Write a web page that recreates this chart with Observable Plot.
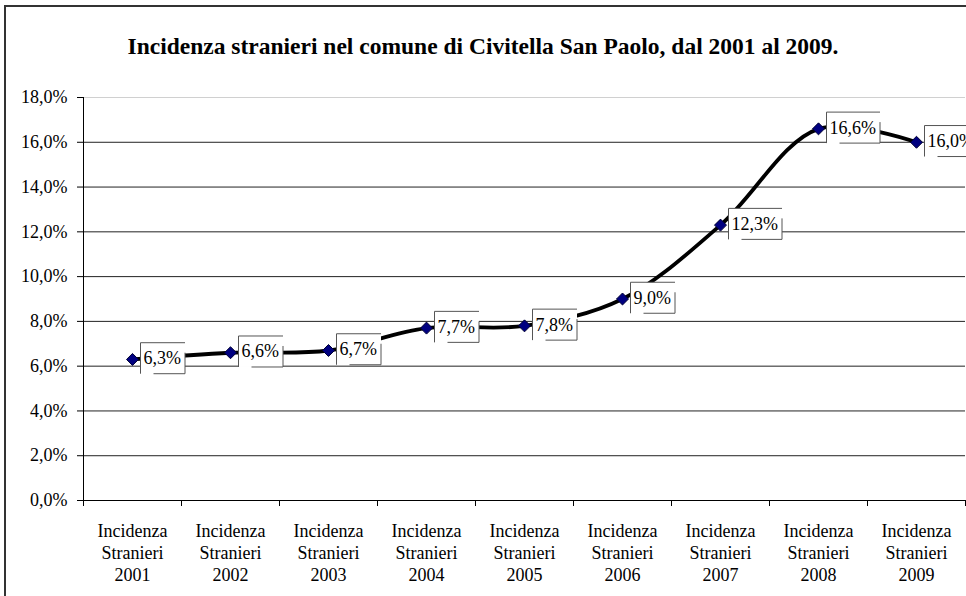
<!DOCTYPE html>
<html>
<head>
<meta charset="utf-8">
<script src="https://cdn.jsdelivr.net/npm/d3@7"></script>
<script src="https://cdn.jsdelivr.net/npm/@observablehq/plot@0.6"></script>
<style>
  html, body { margin: 0; padding: 0; background: #fff; }
  #wrap { position: relative; width: 966px; height: 596px; overflow: hidden; background: #fff; }
  #frame { position: absolute; left: 4px; top: 5px; width: 2000px; height: 2000px; border-left: 2px solid #333; border-top: 2px solid #333; box-sizing: border-box; pointer-events: none; }
  #title { height: 80px; position: relative; }
  #title div { position: absolute; left: 0; width: 966px; top: 33px; line-height: 26px; text-align: center;
    font-family: "Liberation Serif", "Times New Roman", serif; font-weight: bold; font-size: 23.5px; color: #000; }
  #chart svg { display: block; }
</style>
</head>
<body>
<div id="wrap">
  <div id="title"><div>Incidenza stranieri nel comune di Civitella San Paolo, dal 2001 al 2009.</div></div>
  <div id="chart"></div>
  <div id="frame"></div>
</div>
<script>
const years = [2001, 2002, 2003, 2004, 2005, 2006, 2007, 2008, 2009];
const categoryPrefix = "Incidenza\nStranieri\n";
const values = [6.3, 6.6, 6.7, 7.7, 7.8, 9.0, 12.3, 16.6, 16.0];
const yTicks = [0, 2, 4, 6, 8, 10, 12, 14, 16, 18];
const gridDark = [2, 4, 6, 8, 10, 12, 14, 16];
const gridLight = [18];

const fmt = v => v.toFixed(1).replace(".", ",") + "%";
const data = years.map((yr, i) => ({ i: i + 0.5, year: yr, label: categoryPrefix + yr, value: values[i] }));
const boundaries = d3.range(0, years.length + 1);
const font = "'Liberation Serif', 'Times New Roman', serif";

const chart = Plot.plot({
  width: 966,
  height: 516,
  marginTop: 17,
  marginBottom: 96,
  marginLeft: 83,
  marginRight: 1,
  style: { fontFamily: font, fontSize: "18px", color: "#000", background: "#fff", overflow: "visible" },
  x: { type: "linear", domain: [0, years.length] },
  y: { type: "linear", domain: [0, 18] },
  marks: [
    Plot.ruleY(gridDark, { stroke: "#222", strokeWidth: 1 }),
    Plot.ruleY(gridLight, { stroke: "#d0d0d0", strokeWidth: 1 }),
    Plot.axisY({ ticks: yTicks, tickFormat: fmt, tickSize: 6, tickPadding: 10, label: null, fontSize: 18, stroke: "#000" }),
    Plot.axisX({ ticks: boundaries, tickFormat: () => "", tickSize: 6, label: null, stroke: "#000" }),
    Plot.axisX({ ticks: data.map(d => d.i), tickFormat: (d, k) => data[k].label, tickSize: 0, tickPadding: 21, lineHeight: 1.22, label: null, fontSize: 18 }),
    Plot.ruleX([0], { stroke: "#000", strokeWidth: 1 }),
    Plot.ruleY([0], { stroke: "#000", strokeWidth: 1 }),
    Plot.line(data, { x: "i", y: "value", curve: "catmull-rom", stroke: "#000", strokeWidth: 3.8 }),
    Plot.text(data, { x: "i", y: "value", text: d => fmt(d.value), textAnchor: "start", dx: 11, dy: -1, fontSize: 18, fill: "#000" }),
    Plot.dot(data, { x: "i", y: "value", symbol: "diamond2", r: 5.4, fill: "#000080", stroke: "#000033", strokeWidth: 1 })
  ]
});

document.getElementById("chart").appendChild(chart);

// Label boxes drawn around the library-positioned value labels
const ns = "http://www.w3.org/2000/svg";
chart.querySelectorAll('g[aria-label="text"] text').forEach(t => {
  const b = t.getBBox();
  const x0 = b.x - 3, x1 = b.x + b.width + 4;
  const cy = b.y + b.height / 2;
  const y0 = cy - 15.5, y1 = cy + 15.5;
  const tr = t.getAttribute("transform") || "";
  const bg = document.createElementNS(ns, "rect");
  bg.setAttribute("x", x0); bg.setAttribute("y", y0);
  bg.setAttribute("width", x1 - x0); bg.setAttribute("height", y1 - y0);
  bg.setAttribute("fill", "#fff");
  if (tr) bg.setAttribute("transform", tr);
  const p = document.createElementNS(ns, "path");
  p.setAttribute("d",
    `M${x0},${y1}V${y0}H${x1}` +
    `M${x1},${y0 + 10}V${y1}` +
    `M${x0 + 13},${y1}H${x1}`);
  p.setAttribute("fill", "none");
  p.setAttribute("stroke", "#555");
  p.setAttribute("stroke-width", "1");
  if (tr) p.setAttribute("transform", tr);
  t.parentNode.insertBefore(bg, t);
  t.parentNode.insertBefore(p, t);
});
</script>
</body>
</html>
